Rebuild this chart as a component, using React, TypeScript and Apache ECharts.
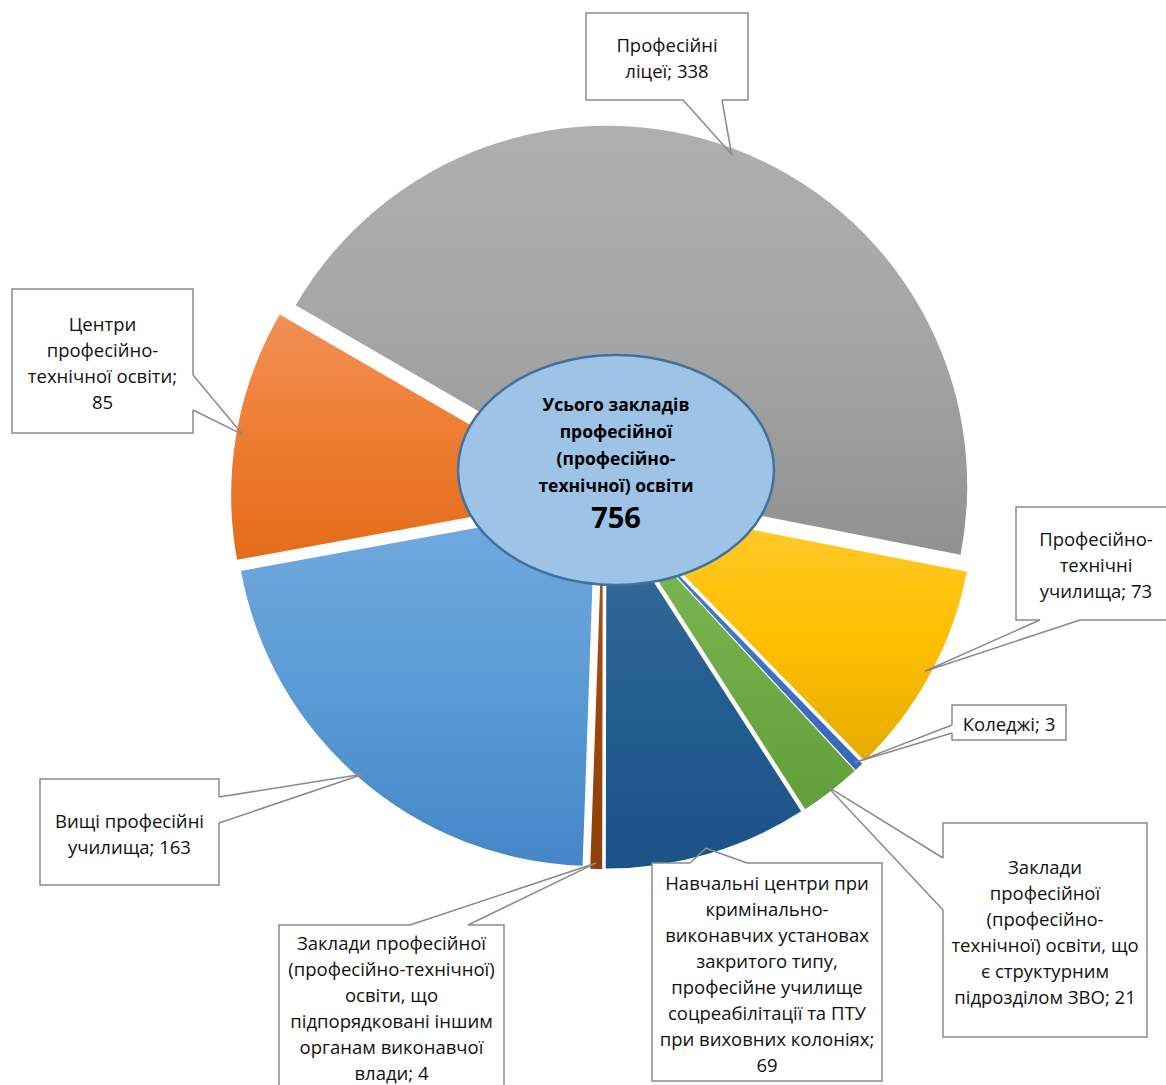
import React, { useEffect, useRef } from "react";
import * as echarts from "echarts";

// ---------- data ----------
const categories = [
  "Вищі професійні\nучилища",
  "Центри\nпрофесійно-\nтехнічної освіти",
  "Професійні\nліцеї",
  "Професійно-\nтехнічні\nучилища",
  "Коледжі",
  "Заклади\nпрофесійної\n(професійно-\nтехнічної) освіти, що\nє структурним\nпідрозділом ЗВО",
  "Навчальні центри при\nкримінально-\nвиконавчих установах\nзакритого типу,\nпрофесійне училище\nсоцреабілітації та ПТУ\nпри виховних колоніях",
  "Заклади професійної\n(професійно-технічної)\nосвіти, що\nпідпорядковані іншим\nорганам виконавчої\nвлади",
];
const values = [163, 85, 338, 73, 3, 21, 69, 4];
const valueOnNewLine = [false, true, false, false, false, false, true, false];
const totalTitle = "Усього закладів\nпрофесійної\n(професійно-\nтехнічної) освіти";
const totalValue = 756;

// ---------- styles / layout ----------
const sliceColors = [
  ["#71aadf", "#5b9bd5", "#4486c7"],
  ["#f39056", "#ed7d31", "#e46b19"],
  ["#afafaf", "#a5a5a5", "#919191"],
  ["#ffca33", "#ffc000", "#e6ad00"],
  ["#5280cc", "#4472c4", "#3866b8"],
  ["#80ba56", "#70ad47", "#619f39"],
  ["#3a6c9c", "#255e91", "#1b5288"],
  ["#ad5420", "#9e480e", "#8f3f08"],
];
const PIE_CX = 603;
const PIE_CY = 497;
const PIE_R = 360;
const EXPLODE = 12;
const START_CW = 182; // first slice angle, degrees clockwise from 12 o'clock
const BORDER = "#8a8a8a";
const FONT = "'Open Sans', 'Noto Sans', sans-serif";

type Callout = { x: number; y: number; w: number; h: number; side: "top" | "bottom" | "left" | "right"; a: number; b: number };
const callouts: Callout[] = [
  { x: 40, y: 779, w: 179, h: 106, side: "right", a: 797, b: 823 },
  { x: 12, y: 289, w: 181, h: 144, side: "right", a: 375, b: 410 },
  { x: 586, y: 13, w: 162, h: 87, side: "bottom", a: 683, b: 722 },
  { x: 1016, y: 507, w: 160, h: 113, side: "bottom", a: 1040, b: 1080 },
  { x: 952, y: 705, w: 114, h: 35, side: "left", a: 725, b: 733 },
  { x: 943, y: 823, w: 204, h: 214, side: "left", a: 858, b: 910 },
  { x: 652, y: 863, w: 230, h: 218, side: "top", a: 690, b: 747 },
  { x: 279, y: 925, w: 225, h: 162, side: "top", a: 410, b: 468 },
];

function grad(c: string[]) {
  return new echarts.graphic.LinearGradient(0, 0, 0, 1, [
    { offset: 0, color: c[0] },
    { offset: 0.5, color: c[1] },
    { offset: 1, color: c[2] },
  ]);
}

function attachPoint(i: number): number[] {
  const sum = values.reduce((s, v) => s + v, 0);
  let before = 0;
  for (let k = 0; k < i; k++) before += values[k];
  const mid = START_CW + ((before + values[i] / 2) / sum) * 360;
  const t = (mid * Math.PI) / 180;
  const rr = PIE_R + EXPLODE - 6;
  return [PIE_CX + rr * Math.sin(t), PIE_CY - rr * Math.cos(t)];
}

export default function App() {
  const ref = useRef<HTMLDivElement>(null);
  useEffect(() => {
    document.body.style.margin = "0";
    const chart = echarts.init(ref.current!, undefined, { renderer: "svg" });

    const data = values.map((v, i) => ({
      name: categories[i],
      value: v,
      selected: true,
      itemStyle: { color: grad(sliceColors[i]), borderWidth: 0 },
      select: { itemStyle: { color: grad(sliceColors[i]), borderWidth: 0 } },
    }));

    const graphics: any[] = [];
    callouts.forEach((c, i) => {
      const P = attachPoint(i);
      let A: number[];
      let B: number[];
      if (c.side === "top") {
        A = [c.a, c.y];
        B = [c.b, c.y];
      } else if (c.side === "bottom") {
        A = [c.a, c.y + c.h];
        B = [c.b, c.y + c.h];
      } else if (c.side === "left") {
        A = [c.x, c.a];
        B = [c.x, c.b];
      } else {
        A = [c.x + c.w, c.a];
        B = [c.x + c.w, c.b];
      }
      graphics.push({
        type: "rect",
        shape: { x: c.x, y: c.y, width: c.w, height: c.h },
        style: { fill: "#ffffff", stroke: BORDER, lineWidth: 1.5 },
        z: 100,
      });
      graphics.push({
        type: "line",
        shape: { x1: A[0], y1: A[1], x2: B[0], y2: B[1] },
        style: { stroke: "#ffffff", lineWidth: 3 },
        z: 101,
      });
      graphics.push({
        type: "polyline",
        shape: { points: [A, P, B] },
        style: { stroke: BORDER, lineWidth: 1.5, fill: null },
        z: 102,
      });
      const text = categories[i] + ";" + (valueOnNewLine[i] ? "\n" : " ") + values[i];
      graphics.push({
        type: "text",
        x: c.x + c.w / 2,
        y: c.y + c.h / 2 + 1,
        style: {
          text,
          fontFamily: FONT,
          fontSize: 18.5,
          lineHeight: 26,
          fill: "#111111",
          align: "center",
          verticalAlign: "middle",
          textAlign: "center",
          textVerticalAlign: "middle",
        },
        z: 103,
      });
    });

    graphics.push({
      type: "ellipse",
      shape: { cx: 616, cy: 470, rx: 158, ry: 115 },
      style: { fill: "#9dc3e6", stroke: "#41719c", lineWidth: 2.5 },
      z: 100,
    });
    graphics.push({
      type: "text",
      x: 616,
      y: 444,
      style: {
        text: totalTitle,
        fontFamily: FONT,
        fontSize: 17.5,
        fontWeight: "bold",
        lineHeight: 27,
        fill: "#000000",
        align: "center",
        verticalAlign: "middle",
        textAlign: "center",
        textVerticalAlign: "middle",
      },
      z: 101,
    });
    graphics.push({
      type: "text",
      x: 616,
      y: 516,
      style: {
        text: String(totalValue),
        fontFamily: FONT,
        fontSize: 29,
        fontWeight: "bold",
        fill: "#000000",
        align: "center",
        verticalAlign: "middle",
        textAlign: "center",
        textVerticalAlign: "middle",
      },
      z: 101,
    });

    chart.setOption({
      animation: false,
      backgroundColor: "#ffffff",
      series: [
        {
          type: "pie",
          center: [PIE_CX, PIE_CY],
          radius: [0, PIE_R],
          startAngle: 90 - START_CW,
          clockwise: true,
          selectedMode: "multiple",
          selectedOffset: EXPLODE,
          avoidLabelOverlap: false,
          label: { show: false },
          labelLine: { show: false },
          emphasis: { disabled: true },
          data,
        },
      ],
      graphic: { elements: graphics },
    });
    return () => chart.dispose();
  }, []);
  return <div ref={ref} style={{ width: 1166, height: 1085 }} />;
}
